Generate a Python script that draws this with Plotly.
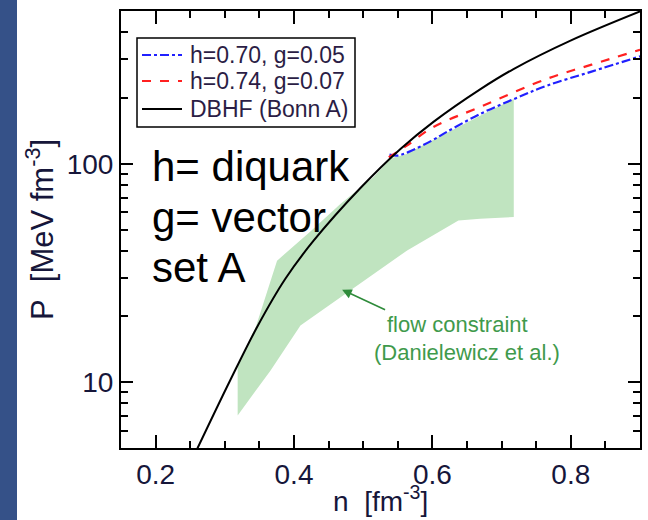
import math
import plotly.graph_objects as go

# ---------------- data ----------------
dbhf_n = [0.2603, 0.308, 0.3471, 0.3875, 0.428, 0.496, 0.5538, 0.6015, 0.6695, 0.7172, 0.7996, 0.9008]
dbhf_P = [4.97, 10.24, 18.0, 29.75, 44.3, 77.4, 116.8, 155.5, 219.6, 271.2, 366, 499]

blue_n = [0.538, 0.55, 0.565, 0.60, 0.621, 0.669, 0.72, 0.766, 0.83, 0.90]
blue_P = [110, 109, 113, 128, 140, 169, 199, 228, 264, 310]

red_n = [0.537, 0.563, 0.601, 0.669, 0.766, 0.83, 0.90]
red_P = [107, 121, 147, 182, 245, 284, 332]

flow_n = [0.3186, 0.3186, 0.345, 0.3755, 0.4237, 0.467, 0.515, 0.54, 0.56, 0.60, 0.669, 0.7176,
          0.7176, 0.669, 0.6376, 0.5635, 0.4093, 0.3659, 0.3186]
flow_P = [7.05, 12.0, 18.0, 36, 49, 65.5, 87, 106, 110, 128, 166, 198,
          57, 56, 55, 40.1, 18.2, 11.3, 7.05]

series_names = ["h=0.70, g=0.05", "h=0.74, g=0.07", "DBHF (Bonn A)"]

x_ticks = [0.2, 0.4, 0.6, 0.8]
x_minor = [0.15, 0.25, 0.3, 0.35, 0.45, 0.5, 0.55, 0.65, 0.7, 0.75, 0.85, 0.9]
y_ticks = [10, 100]
y_minor = [5, 6, 7, 8, 9, 20, 30, 40, 50, 60, 70, 80, 90, 200, 300, 400]

FONT = "Liberation Sans, Arial, Helvetica, sans-serif"
TXT = "#16163a"
COLORS = ["#2020ff", "#ff2020", "#000000"]
DASHES = ["dashdot", "dash", "solid"]

fig = go.Figure()

fig.add_trace(go.Scatter(
    x=flow_n, y=flow_P, mode="lines", fill="toself", name="flow constraint",
    fillcolor="#c0e4c0", line=dict(width=0), hoverinfo="skip", showlegend=False))

for xs, ys, nm, c, d in [(blue_n, blue_P, series_names[0], COLORS[0], DASHES[0]),
                         (red_n, red_P, series_names[1], COLORS[1], DASHES[1]),
                         (dbhf_n, dbhf_P, series_names[2], COLORS[2], DASHES[2])]:
    fig.add_trace(go.Scatter(x=xs, y=ys, mode="lines", name=nm, showlegend=False,
                             line=dict(color=c, width=2.2 if d != "solid" else 2,
                                       dash=d, shape="spline")))

axis_common = dict(
    showgrid=False, zeroline=False, showline=True, linecolor="black", linewidth=2,
    mirror="ticks", ticks="inside", tickcolor="black", tickwidth=1.6,
    tickfont=dict(family=FONT, size=28, color=TXT), automargin=False,
)

fig.update_xaxes(
    range=[0.15, 0.9], tickmode="array", tickvals=x_ticks,
    ticktext=[f"{v:.1f}" for v in x_ticks], ticklen=13,
    minor=dict(tickmode="array", tickvals=x_minor, ticks="inside", ticklen=7,
               tickcolor="black", tickwidth=1.6, showgrid=False),
    **axis_common)

fig.update_yaxes(
    type="log", range=[math.log10(5), math.log10(500)], tickmode="array",
    tickvals=y_ticks, ticktext=[str(v) for v in y_ticks], ticklen=12,
    minor=dict(tickmode="array", tickvals=y_minor, ticks="inside", ticklen=7,
               tickcolor="black", tickwidth=1.6, showgrid=False),
    title=dict(text="P\u00a0\u00a0[MeV fm<sup>-3</sup>]", font=dict(family=FONT, size=31, color=TXT), standoff=4),
    **axis_common)

L, R, T, B = 121, 8, 11, 72
W, H = 648 - L - R, 520 - T - B

def px(xp):
    return (xp - L) / W

def py(yp):
    return (520 - B - yp) / H

# x-axis title placed as text below the tick labels
fig.add_annotation(text="n\u00a0\u00a0[fm<sup>-3</sup>]", xref="paper", yref="paper",
                   x=0.5, y=py(519), xanchor="center", yanchor="bottom", showarrow=False,
                   font=dict(family=FONT, size=28, color=TXT))

# blue slide strip on the left
fig.add_shape(type="rect", xref="paper", yref="paper",
              x0=-L / W, x1=(17 - L) / W, y0=-(B + 5) / H, y1=1 + (T + 5) / H,
              fillcolor="#355188", line=dict(width=0), layer="below")

# legend box (drawn by hand to match the original's compact layout)
fig.add_shape(type="rect", xref="paper", yref="paper",
              x0=px(137), x1=px(355), y0=py(127), y1=py(38),
              fillcolor="white", line=dict(color="black", width=1.5), layer="above")
for i, (nm, c, d) in enumerate(zip(series_names, COLORS, DASHES)):
    yc = [55, 81, 109][i]
    fig.add_shape(type="line", xref="paper", yref="paper",
                  x0=px(142), x1=px(182), y0=py(yc), y1=py(yc),
                  line=dict(color=c, width=2, dash=d), layer="above")
    fig.add_annotation(text=nm, xref="paper", yref="paper", x=px(188), y=py(yc),
                       xanchor="left", yanchor="middle", showarrow=False,
                       font=dict(family=FONT, size=23, color="#2b1d45"))

for txt, yc in [("h= diquark", 167), ("g= vector", 217), ("set A", 267)]:
    fig.add_annotation(text=txt, xref="paper", yref="paper", x=px(150), y=py(yc),
                       xanchor="left", yanchor="middle", showarrow=False,
                       font=dict(family=FONT, size=42, color="black"))

GREEN_TXT = "#3f9a4c"
head_n, head_P = 0.4695, 26.5
fig.add_annotation(text="flow constraint", x=head_n, y=math.log10(head_P), xref="x", yref="y",
                   showarrow=True, ax=43, ay=20, xanchor="left", yanchor="top",
                   arrowhead=2, arrowsize=1.2, arrowwidth=1.6, arrowcolor="#2e8b3a",
                   font=dict(family=FONT, size=22, color=GREEN_TXT))
fig.add_annotation(text="(Danielewicz et al.)", xref="paper", yref="paper", x=px(467), y=py(352),
                   xanchor="center", yanchor="middle", showarrow=False,
                   font=dict(family=FONT, size=22, color=GREEN_TXT))

fig.update_layout(
    width=648, height=520,
    margin=dict(l=L, r=R, t=T, b=B),
    paper_bgcolor="white", plot_bgcolor="white",
    font=dict(family=FONT, color=TXT),
    showlegend=False,
)

fig.write_html("out.html")
